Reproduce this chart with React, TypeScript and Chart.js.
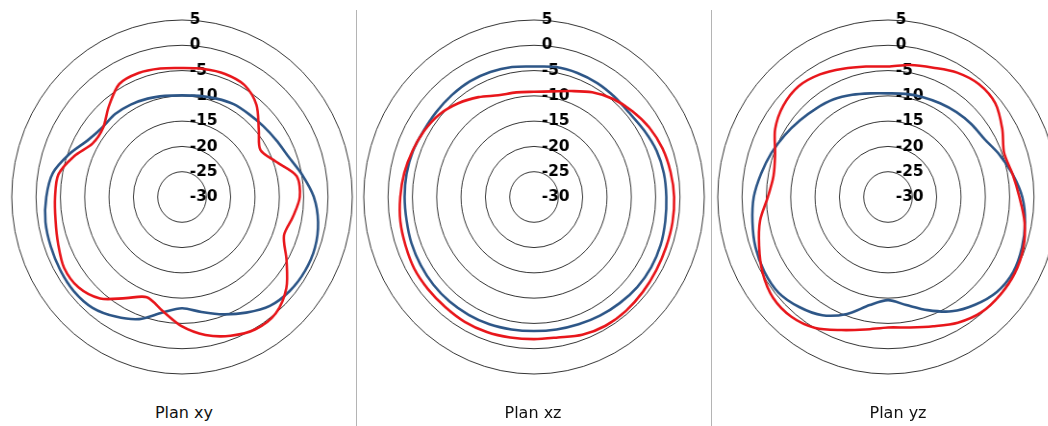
import React, { useEffect, useRef } from 'react';
import { Chart, registerables } from 'chart.js';

Chart.register(...registerables);

// Angle categories (degrees, clockwise from top)
const angleLabels = [
  '0', '10', '20', '30', '40', '50', '60', '70', '80', '90', '100', '110',
  '120', '130', '140', '150', '160', '170', '180', '190', '200', '210', '220', '230',
  '240', '250', '260', '270', '280', '290', '300', '310', '320', '330', '340', '350',
];

// Radial tick labels (dB)
const tickLabels = [-30, -25, -20, -15, -10, -5, 0, 5];

const panelTitles = ['Plan xy', 'Plan xz', 'Plan yz'];

// Plan xy
const xyRed = [
  -4.5, -4.3, -4.1, -4.4, -6.2, -9.4, -11.4, -9.5, -6.1, -5.8, -6.9, -7.7,
  -5.2, -2.0, 0.0, 0.2, -0.8, -2.3, -4.4, -7.1, -8.9, -6.9, -3.8, -2.2,
  -2.0, -2.9, -3.6, -3.9, -4.2, -6.4, -8.8, -8.8, -6.6, -4.2, -3.9, -4.2,
];
const xyBlue = [
  -9.9, -9.7, -9.3, -8.8, -8.6, -8.2, -7.6, -6.7, -4.9, -2.9, -1.6, -0.9,
  -0.8, -1.1, -1.9, -3.6, -5.3, -6.9, -8.0, -6.8, -4.3, -2.7, -1.4, -1.0,
  -1.1, -1.3, -1.5, -2.1, -3.0, -5.3, -7.6, -8.6, -8.6, -8.9, -9.3, -9.7,
];

// Plan xz
const xzRed = [
  -9.2, -8.8, -7.7, -6.1, -4.7, -3.6, -2.6, -1.9, -1.5, -1.2, -1.1, -1.1,
  -1.0, -0.8, -0.6, -0.6, -1.0, -1.8, -1.9, -1.8, -1.6, -1.5, -1.6, -1.6,
  -1.6, -1.9, -2.1, -2.5, -2.9, -3.4, -3.9, -4.6, -5.8, -7.2, -8.6, -9.0,
];
const xzBlue = [
  -4.2, -3.9, -3.9, -4.0, -4.2, -4.3, -3.8, -3.2, -2.9, -2.8, -2.6, -2.3,
  -2.2, -2.3, -2.6, -2.9, -3.2, -3.4, -3.5, -3.4, -3.2, -3.1, -3.0, -3.0,
  -3.1, -3.2, -3.4, -3.4, -3.4, -3.5, -3.8, -3.8, -3.7, -3.6, -3.7, -3.9,
];

// Plan yz
const yzRed = [
  -4.2, -3.5, -2.8, -1.6, -0.9, -1.2, -2.9, -4.6, -4.0, -3.0, -1.5, -0.4,
  0.1, 0.1, -0.2, -1.3, -2.8, -3.8, -4.2, -3.4, -2.0, -0.1, 0.9, 0.9,
  -0.2, -1.8, -3.3, -5.3, -6.1, -5.3, -3.2, -1.9, -1.4, -2.0, -3.0, -3.8,
];
const yzBlue = [
  -9.5, -9.3, -9.0, -8.6, -8.1, -7.6, -7.1, -5.6, -4.0, -2.4, -1.4, -0.7,
  -0.3, -0.8, -2.2, -3.9, -6.2, -8.3, -9.6, -8.3, -5.4, -3.0, -1.6, -0.6,
  -0.6, -1.0, -1.7, -2.4, -3.5, -4.5, -5.5, -6.4, -7.1, -7.7, -8.5, -9.2,
];

const RED = '#e8161b';
const BLUE = '#2d5687';

const tickLabelPlugin = {
  id: 'tickLabelsLeft',
  beforeDatasetsDraw(chart: any) {
    const scale = chart.scales.r;
    const ctx = chart.ctx;
    ctx.save();
    ctx.font = 'bold 16px "DejaVu Sans"';
    ctx.fillStyle = '#000';
    ctx.textAlign = 'left';
    ctx.textBaseline = 'middle';
    tickLabels.forEach((v) => {
      const d = scale.getDistanceFromCenterForValue(v);
      ctx.fillText(String(v), scale.xCenter + 8, scale.yCenter - d);
    });
    ctx.restore();
  },
};

const SIZE = 400;
const PAD = 23;

function PolarPanel({ red, blue, cx, cy }: { red: number[]; blue: number[]; cx: number; cy: number }) {
  const ref = useRef<HTMLCanvasElement>(null);
  useEffect(() => {
    if (!ref.current) return;
    const chart = new Chart(ref.current, {
      type: 'radar',
      data: {
        labels: angleLabels,
        datasets: [
          { data: red, borderColor: RED, borderWidth: 2.6, pointRadius: 0, fill: false, tension: 0.3 },
          { data: blue, borderColor: BLUE, borderWidth: 2.6, pointRadius: 0, fill: false, tension: 0.3 },
        ],
      },
      options: {
        responsive: false,
        maintainAspectRatio: false,
        animation: false,
        devicePixelRatio: 1,
        layout: { padding: PAD },
        plugins: { legend: { display: false }, tooltip: { enabled: false } },
        scales: {
          r: {
            min: -30,
            max: 5,
            ticks: { display: false, stepSize: 5 },
            grid: { circular: true, color: 'rgba(0,0,0,0.8)', lineWidth: 1 },
            angleLines: { display: false },
            pointLabels: { display: false },
          },
        },
      },
      plugins: [tickLabelPlugin],
    } as any);
    return () => chart.destroy();
  }, [red, blue]);
  return (
    <div
      style={{
        position: 'absolute',
        left: cx - SIZE / 2,
        top: cy - SIZE / 2,
        width: SIZE,
        height: SIZE,
        transform: 'scaleX(0.962)',
        transformOrigin: `${SIZE / 2}px ${SIZE / 2}px`,
      }}
    >
      <canvas ref={ref} width={SIZE} height={SIZE} />
    </div>
  );
}

const titleStyle = (cx: number): React.CSSProperties => ({
  position: 'absolute',
  left: cx - 60,
  width: 120,
  top: 405,
  textAlign: 'center',
  fontFamily: '"DejaVu Sans"',
  fontSize: 16,
  lineHeight: '16px',
  color: '#111',
  whiteSpace: 'nowrap',
});

export default function App() {
  return (
    <div
      style={{
        position: 'fixed',
        left: 0,
        top: 0,
        width: 1048,
        height: 426,
        overflow: 'hidden',
        background: '#fff',
      }}
    >
      <PolarPanel red={xyRed} blue={xyBlue} cx={182} cy={197} />
      <PolarPanel red={xzRed} blue={xzBlue} cx={534} cy={197} />
      <PolarPanel red={yzRed} blue={yzBlue} cx={888} cy={197} />
      <div style={{ position: 'absolute', left: 356, top: 10, width: 1, height: 416, background: '#b4b4b4' }} />
      <div style={{ position: 'absolute', left: 711, top: 10, width: 1, height: 416, background: '#b4b4b4' }} />
      <div style={titleStyle(184)}>{panelTitles[0]}</div>
      <div style={titleStyle(533)}>{panelTitles[1]}</div>
      <div style={titleStyle(898)}>{panelTitles[2]}</div>
    </div>
  );
}
